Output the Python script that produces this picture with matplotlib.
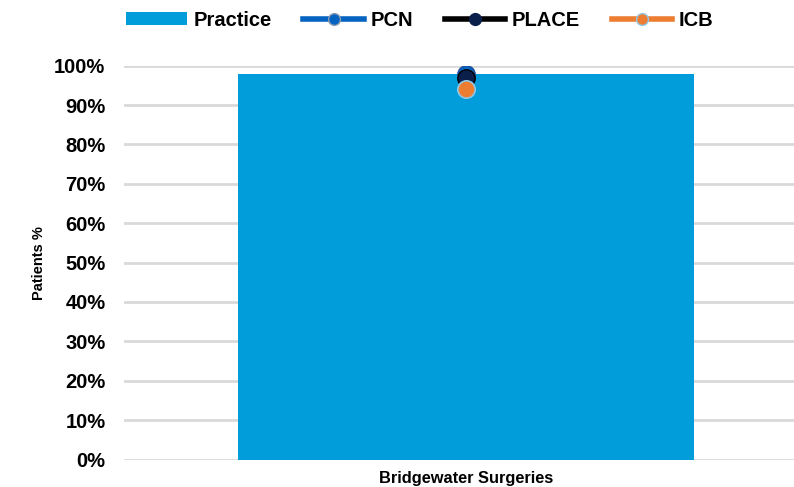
import matplotlib
matplotlib.use("Agg")
import matplotlib.pyplot as plt
from matplotlib.lines import Line2D
from matplotlib.patches import Patch

categories = ["Bridgewater Surgeries"]
practice = [97.8]
pcn = [97.9]
place = [97.0]
icb = [94.1]
yticks = [0, 10, 20, 30, 40, 50, 60, 70, 80, 90, 100]
ytick_labels = [f"{v}%" for v in yticks]

plt.rcParams['font.family'] = ['Liberation Sans', 'DejaVu Sans']
plt.rcParams['font.weight'] = 'bold'

fig = plt.figure(figsize=(7.94, 4.87), dpi=100)
ax = fig.add_axes([123.5/794, 1 - 459.5/487, (794 - 123.5)/794, (459.5 - 65.7)/487])

x = list(range(len(categories)))
ax.bar(x, practice, width=0.68, color='#009DDA', zorder=2)
ax.plot(x, pcn, marker='o', markersize=12.5, color='#0563C1', markerfacecolor='#0563C1',
        markeredgecolor='#1F4E99', linestyle='none', zorder=3)
ax.plot(x, place, marker='o', markersize=12.5, color='black', markerfacecolor='#0B1F4B',
        markeredgecolor='black', linestyle='none', zorder=4)
ax.plot(x, icb, marker='o', markersize=12.5, color='#ED7D31', markerfacecolor='#ED7D31',
        markeredgecolor='#8FC8E8', markeredgewidth=1.2, linestyle='none', zorder=5)

ax.set_xlim(-0.511, 0.489)
ax.set_ylim(0, 100)
ax.set_yticks(yticks)
ax.set_yticklabels(ytick_labels, fontsize=14.5, fontweight='bold')
ax.set_xticks(x)
ax.set_xticklabels(categories, fontsize=11.8, fontweight='bold')
ax.tick_params(axis='both', length=0)
ax.tick_params(axis='y', pad=13)
ax.tick_params(axis='x', pad=8)
ax.yaxis.grid(True, color='#D9D9D9', linewidth=2, zorder=0)
ax.set_axisbelow(True)
for s in ax.spines.values():
    s.set_visible(False)
ax.set_ylabel("Patients %", fontsize=10.5, fontweight='bold')
ax.yaxis.set_label_coords(-0.116, 0.5)

handles = [
    Patch(facecolor='#009DDA', edgecolor='none'),
    Line2D([0], [0], color='#0563C1', linewidth=4, marker='o', markersize=8.5,
           markerfacecolor='#0563C1', markeredgecolor='#8C9BB0'),
    Line2D([0], [0], color='black', linewidth=4, marker='o', markersize=8.5,
           markerfacecolor='#0B1F4B', markeredgecolor='#0B1F4B'),
    Line2D([0], [0], color='#ED7D31', linewidth=4, marker='o', markersize=8.5,
           markerfacecolor='#ED7D31', markeredgecolor='#8FC8E8'),
]
labels = ["Practice", "PCN", "PLACE", "ICB"]
leg = fig.legend(handles, labels, loc='center', bbox_to_anchor=(420/794, 1 - 20/487),
                 ncol=4, frameon=False, prop={'size': 14.5, 'weight': 'bold'},
                 handlelength=3.0, handletextpad=0.35, columnspacing=1.55,
                 handleheight=0.6)

fig.savefig("out.png", dpi=100)
